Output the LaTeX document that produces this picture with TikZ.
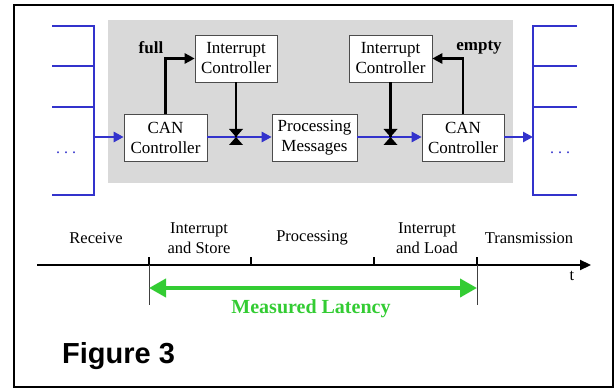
\documentclass[tikz,border=0pt]{standalone}
\usepackage{fontspec}
\setmainfont{Liberation Serif}
\newfontfamily\figfont{Liberation Sans}
\usetikzlibrary{arrows.meta}
\definecolor{busblue}{RGB}{51,51,204}
\definecolor{latgreen}{RGB}{51,204,51}
\definecolor{panelgray}{RGB}{217,217,217}
\begin{document}
\begin{tikzpicture}[x=1pt,y=-1pt,
  box/.style={draw=black!70, fill=white, line width=0.6pt, minimum height=47pt, align=center, inner sep=1pt, font=\fontsize{17}{20}\selectfont},
  bus/.style={draw=busblue, line width=2.5pt},
  busarrow/.style={busblue, line width=2.5pt, -{Triangle[length=10pt,width=10pt]}},
  ctrl/.style={black, line width=2.5pt, -{Triangle[length=10pt,width=10pt]}},
  lbl/.style={font=\fontsize{16.5}{20}\selectfont, align=center},
  tick/.style={line width=1.8pt},
]
\useasboundingbox (0,0) rectangle (615,390);
% frame and panel
\draw[line width=2.2pt] (14,5) rectangle (613,387);
\fill[panelgray] (108,20) rectangle (513,183);
% boxes
\node[box, minimum width=83pt] (can1) at (165.5,138) {CAN\\Controller};
\node[box, minimum width=82pt] (int1) at (236,58.5) {Interrupt\\Controller};
\node[box, minimum width=85pt] (proc) at (314.5,138) {Processing\\Messages};
\node[box, minimum width=83pt] (int2) at (390.5,58.5) {Interrupt\\Controller};
\node[box, minimum width=82pt] (can2) at (463,138) {CAN\\Controller};
% left bus
\draw[bus] (52,26) -- (94,26) -- (94,195) -- (52,195);
\draw[bus] (52,66) -- (94,66);
\draw[bus] (52,107) -- (94,107);
\node[text=busblue, font=\fontsize{16}{19}\selectfont] (ldots) at (66,153) {.\hspace{4pt}.\hspace{4pt}.};
\coordinate (lbus) at (94,137);
% right bus
\draw[bus] (577,26) -- (533,26) -- (533,195) -- (577,195);
\draw[bus] (533,66) -- (577,66);
\draw[bus] (533,107) -- (577,107);
\node[text=busblue, font=\fontsize{16}{19}\selectfont] (rdots) at (560,153) {.\hspace{4pt}.\hspace{4pt}.};
\coordinate (rbus) at (533,137);
% blue flow
\draw[busarrow] (lbus) -- (can1.west |- lbus);
\draw[busarrow] (can1.east |- lbus) -- (proc.west |- lbus);
\draw[busarrow] (proc.east |- lbus) -- (can2.west |- lbus);
\draw[busarrow] (can2.east |- lbus) -- (rbus);
% control signals
\draw[ctrl] (can1.north) |- (int1.west);
\node[font=\bfseries\fontsize{17}{20}\selectfont] (full) at (151,48) {full};
\draw[ctrl] (can2.north) |- (int2.east);
\node[font=\bfseries\fontsize{17}{20}\selectfont] (empty) at (479,48) {empty};
% junctions
\coordinate (j1) at (int1.south |- lbus);
\coordinate (j2) at (int2.south |- lbus);
\foreach \j/\i in {j1/int1, j2/int2}{
  \draw[line width=2.5pt] (\i.south) -- (\j);
  \fill (\j) -- ++(-7,-8) -- ++(14,0) -- cycle;
  \fill (\j) -- ++(-7,8) -- ++(14,0) -- cycle;
}
% timeline
\coordinate (t0) at (37,265);
\coordinate (t1) at (591,265);
\draw[line width=2.2pt, -{Triangle[length=11pt,width=10pt]}] (t0) -- (t1);
\coordinate (m1) at (149,265);
\coordinate (m2) at (251,265);
\coordinate (m3) at (374,265);
\coordinate (m4) at (477,265);
\foreach \m in {m1,m2,m3,m4}{\draw[tick] (\m) -- ++(0,-8);}
\draw[line width=0.6pt, black!75] (m1) -- ++(0,40);
\draw[line width=0.6pt, black!75] (m4) -- ++(0,40);
\coordinate (g1) at (149,288);
\coordinate (g2) at (477,288);
\draw[latgreen, line width=4pt, {Triangle[length=17pt,width=18pt]}-{Triangle[length=17pt,width=18pt]}] (g1) -- (g2);
\node[text=latgreen, font=\bfseries\fontsize{20}{24}\selectfont] (lat) at (311,309) {Measured Latency};
% phase labels
\node[lbl] (rx) at (96,238) {Receive};
\node[lbl] (is) at (199,238) {Interrupt\\and Store};
\node[lbl] (pr) at (312,238) {Processing};
\node[lbl] (il) at (427,238) {Interrupt\\and Load};
\node[lbl] (tx) at (529,238) {Transmission};
\node[lbl] (tt) at (572,276) {t};
% caption
\node[anchor=west, inner sep=0pt, font=\figfont\bfseries\fontsize{29}{34}\selectfont] (fig) at (62,356) {Figure 3};
\end{tikzpicture}
\end{document}
